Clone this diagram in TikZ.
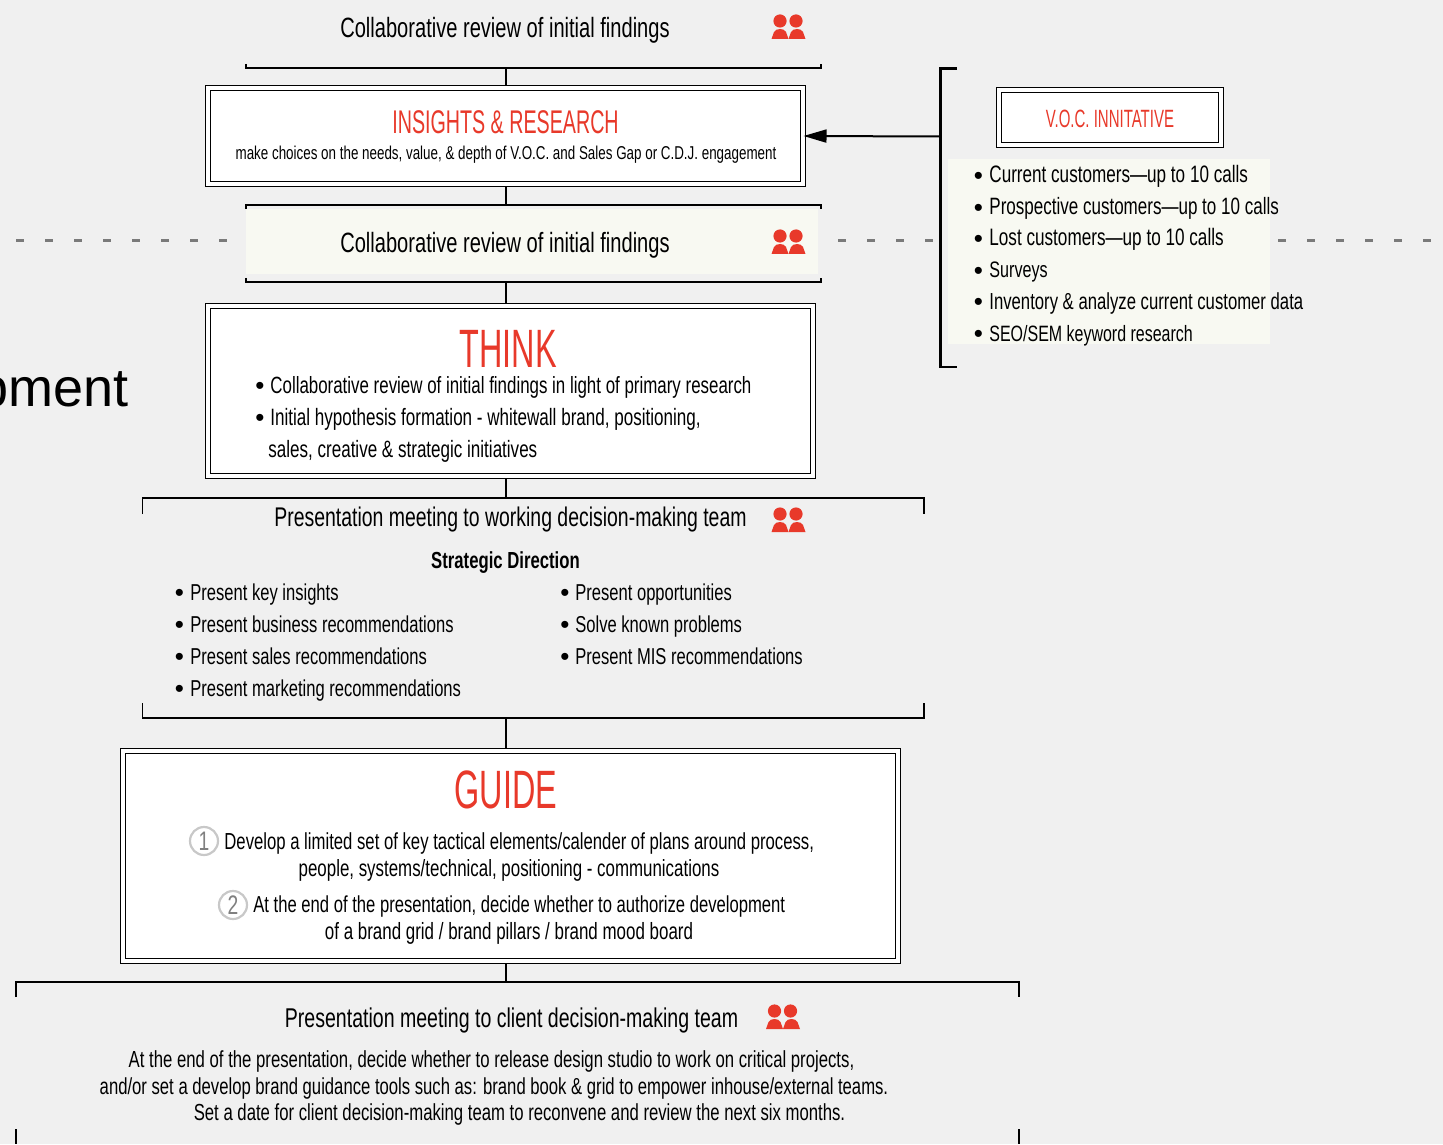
\documentclass[tikz,border=0pt]{standalone}
\usepackage{fontspec}
\setmainfont[FakeStretch=0.72]{Liberation Sans}
\newfontfamily\bigfont{Liberation Sans}
\newfontfamily\narrowfont[FakeStretch=0.6]{Liberation Sans}
\usetikzlibrary{arrows.meta}
\definecolor{bg}{HTML}{F0F0F0}
\definecolor{cream}{HTML}{F8F9F2}
\definecolor{acc}{HTML}{E8392A}
\definecolor{dashg}{HTML}{7A7A7A}
\definecolor{circg}{HTML}{C8C8C8}
\newcommand{\sz}[1]{\fontsize{#1pt}{#1pt}\selectfont}
\tikzset{
 x=0.5pt,y=-0.5pt,
 tx/.style={inner sep=0pt,anchor=base west,font=\sz{11.5},text=black},
 tc/.style={inner sep=0pt,anchor=base,font=\sz{11.6},text=black},
 bul/.style={inner sep=0pt,anchor=base west,font=\bigfont\sz{13},text=black,yshift=-0.8pt},
 title/.style={inner sep=0pt,anchor=base,text=acc},
 dbl/.style={draw=black,line width=0.5pt,double=white,double distance=2pt,fill=white,inner sep=0pt},
 brk/.style={draw=black,line width=0.6pt},
 conn/.style={draw=black,line width=1pt},
 dsh/.style={draw=dashg,line width=1.1pt,dash pattern=on 4pt off 10.5pt},
 numc/.style={circle,draw=circg,line width=1.1pt,minimum size=14pt,inner sep=0pt,font=\sz{13.4},text=gray},
 people/.pic={
  \fill[acc] (8.5,-18) circle (6.6);
  \fill[acc] (24.5,-18) circle (6.6);
  \fill[acc] (0,0) -- (2.5,-7) .. controls (4,-11) and (13,-11) .. (14.5,-7) -- (17,0) -- cycle;
  \fill[acc] (17,0) -- (19.5,-7) .. controls (21,-11) and (30,-11) .. (31.5,-7) -- (34,0) -- cycle;
 }
}
\begin{document}
\begin{tikzpicture}
\useasboundingbox (0,0) rectangle (1443,1144);
\fill[bg] (0,0) rectangle (1443,1144);
\begin{scope}
\clip (0,0) rectangle (1443,1144);
% dashed rule
\coordinate (dl1) at (16,240.5); \coordinate (dl2) at (232,240.5);
\coordinate (dm1) at (838,240.5); \coordinate (dm2) at (940,240.5);
\coordinate (dr1) at (1278,240.5); \coordinate (dr2) at (1436,240.5);
\draw[dsh] (dl1) -- (dl2);
\draw[dsh] (dm1) -- (dm2);
\draw[dsh] (dr1) -- (dr2);
% cream panels
\fill[cream] (246,209) rectangle (818,274);
\fill[cream] (948,159) rectangle (1270,344);
% side text cut by the edge
\node[inner sep=0pt,anchor=base east,font=\bigfont\sz{27}] (side) at (129,406) {Development};
% boxes
\node[dbl,minimum width=297.5pt,minimum height=48pt] (ins) at (505.5,136) {};
\node[dbl,minimum width=302.5pt,minimum height=85pt] (thk) at (510.5,391) {};
\node[dbl,minimum width=387.5pt,minimum height=105pt] (gde) at (510.5,856) {};
\node[dbl,minimum width=111pt,minimum height=27.5pt] (voc) at (1109.5,118) {};
% brackets
\coordinate (b1) at (505.5,68);
\draw[brk] (246,64) -- (246,68) -- (821,68) -- (821,64);
\coordinate (b2) at (505.5,205);
\draw[brk] (246,209) -- (246,205) -- (821,205) -- (821,209);
\coordinate (b3) at (505.5,282);
\draw[brk] (246,278) -- (246,282) -- (821,282) -- (821,278);
\coordinate (b4) at (505.5,498);
\draw[brk] (142.5,514) -- (142.5,498) -- (924,498) -- (924,514);
\coordinate (b5) at (505.5,718);
\draw[brk] (142.5,703) -- (142.5,718) -- (924,718) -- (924,703);
\coordinate (b6) at (505.5,982);
\draw[brk] (16,997) -- (16,982) -- (1019,982) -- (1019,997);
\draw[brk] (16,1129) -- (16,1144);
\draw[brk] (1019,1129) -- (1019,1144);
% connectors
\coordinate (t1) at (505.5,85); \draw[conn] (b1) -- (t1);
\coordinate (t2) at (505.5,187); \draw[conn] (t2) -- (b2);
\coordinate (t3) at (505.5,303); \draw[conn] (b3) -- (t3);
\coordinate (t4) at (505.5,479); \draw[conn] (t4) -- (b4);
\coordinate (t5) at (505.5,748); \draw[conn] (b5) -- (t5);
\coordinate (t6) at (505.5,964); \draw[conn] (t6) -- (b6);
% big bracket and arrow
\draw[draw=black,line width=1.25pt] (957,68.5) -- (940.5,68.5) -- (940.5,367) -- (957,367);
\coordinate (arrs) at (940.5,136.5);
\draw[draw=black,line width=1pt,-{Triangle[length=11.5pt,width=6.5pt]}] (arrs) -- (ins.east);
% people icons
\pic at (771.5,39) {people};
\pic at (771.5,254) {people};
\pic at (771.5,532) {people};
\pic at (766,1029) {people};
% texts
\node[tc,font=\sz{13.95}] (n1) at (505,38) {Collaborative review of initial findings};
\node[title,font=\narrowfont\sz{16.4}] (n2) at (505.5,134) {INSIGHTS \& RESEARCH};
\node[tc,font=\sz{9.3}] (n3) at (506,160) {make choices on the needs, value, \& depth of V.O.C. and Sales Gap or C.D.J. engagement};
\node[tc,font=\sz{13.95}] (n4) at (505,253) {Collaborative review of initial findings};
\node[title,font=\narrowfont\sz{27}] (n5) at (508,367) {THINK};
\node[bul] (n6a) at (255,393) {•};
\node[tx,font=\sz{11.74}] (n6) at (270,393) {Collaborative review of initial findings in light of primary research};
\node[bul] (n7a) at (255,425) {•};
\node[tx,font=\sz{11.84}] (n7) at (270,425) {Initial hypothesis formation - whitewall brand, positioning,};
\node[tx,font=\sz{11.83}] (n8) at (268,457) {sales, creative \& strategic initiatives};
\node[tc,font=\sz{13.5}] (n9) at (510.5,526) {Presentation meeting to working decision-making team};
\node[tc,font=\sz{11.6}\bfseries] (n10) at (505.5,568) {Strategic Direction};
\node[bul] (l1a) at (174.5,600) {•}; \node[tx] (l1) at (190,600) {Present key insights};
\node[bul] (l2a) at (174.5,632) {•}; \node[tx] (l2) at (190,632) {Present business recommendations};
\node[bul] (l3a) at (174.5,664) {•}; \node[tx] (l3) at (190,664) {Present sales recommendations};
\node[bul] (l4a) at (174.5,696) {•}; \node[tx] (l4) at (190,696) {Present marketing recommendations};
\node[bul] (r1a) at (560,600) {•}; \node[tx] (r1) at (575,600) {Present opportunities};
\node[bul] (r2a) at (560,632) {•}; \node[tx] (r2) at (575,632) {Solve known problems};
\node[bul] (r3a) at (560,664) {•}; \node[tx] (r3) at (575,664) {Present MIS recommendations};
\node[title,font=\narrowfont\sz{27}] (g0) at (506,808) {GUIDE};
\node[numc] (c1) at (204,841) {1};
\node[tx,font=\sz{11.6}] (g1) at (224,849) {Develop a limited set of key tactical elements/calender of plans around process,};
\node[tc,font=\sz{11.73}] (g2) at (509,876) {people, systems/technical, positioning - communications};
\node[numc] (c2) at (233,905) {2};
\node[tx,font=\sz{11.55}] (g3) at (253,912) {At the end of the presentation, decide whether to authorize development};
\node[tc,font=\sz{11.76}] (g4) at (509,939) {of a brand grid / brand pillars / brand mood board};
\node[tc,font=\sz{13.58}] (p0) at (511.5,1027) {Presentation meeting to client decision-making team};
\node[tc,font=\sz{11.62}] (p1) at (491.5,1067) {At the end of the presentation, decide whether to release design studio to work on critical projects,};
\node[tc,font=\sz{11.58}] (p2) at (494,1094) {and/or set a develop brand guidance tools such as: brand book \& grid to empower inhouse/external teams.};
\node[tc,font=\sz{11.61}] (p3) at (519.5,1120) {Set a date for client decision-making team to reconvene and review the next six months.};
\node[title,font=\narrowfont\sz{12.5}] (v0) at (1110,127.5) {V.O.C. INNITATIVE};
\node[bul] (va1) at (973.5,183) {•}; \node[tx,font=\sz{11.88}] (v1) at (989,183) {Current customers—up to 10 calls};
\node[bul] (va2) at (973.5,215) {•}; \node[tx,font=\sz{11.82}] (v2) at (989,215) {Prospective customers—up to 10 calls};
\node[bul] (va3) at (973.5,246) {•}; \node[tx,font=\sz{11.9}] (v3) at (989,246) {Lost customers—up to 10 calls};
\node[bul] (va4) at (973.5,278) {•}; \node[tx,font=\sz{11.2}] (v4) at (989,278) {Surveys};
\node[bul] (va5) at (973.5,309) {•}; \node[tx,font=\sz{11.6}] (v5) at (989,309) {Inventory \& analyze current customer data};
\node[bul] (va6) at (973.5,341) {•}; \node[tx,font=\sz{11.1}] (v6) at (989,341) {SEO/SEM keyword research};
\end{scope}
\end{tikzpicture}
\end{document}
